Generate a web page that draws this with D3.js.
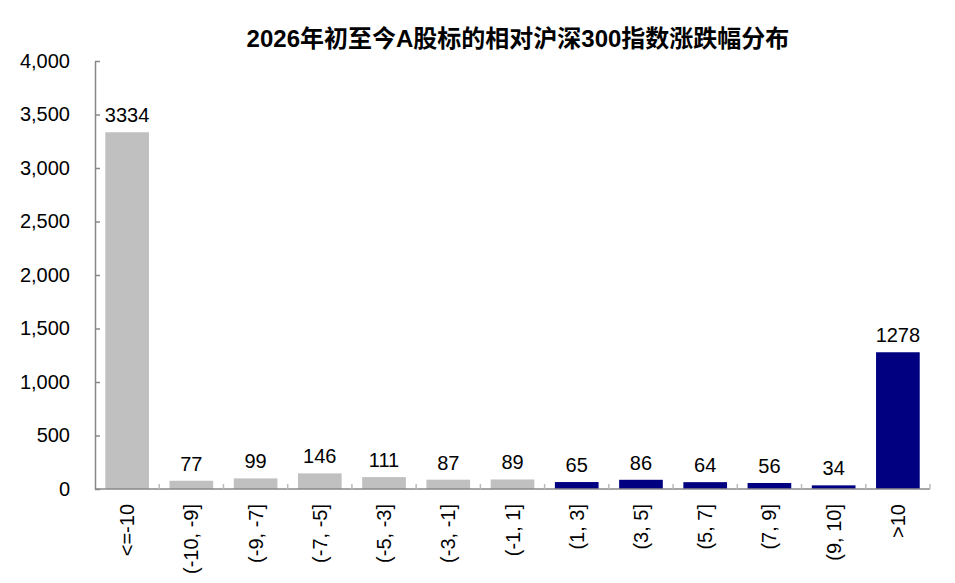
<!DOCTYPE html>
<html>
<head>
<meta charset="utf-8">
<script src="https://cdn.jsdelivr.net/npm/d3@7"></script>
<style>
  body { margin: 0; background: #fff; }
  text { font-family: "Liberation Sans", Arial, sans-serif; }
</style>
</head>
<body>
<div id="chart"></div>
<script>
const categories = ["<=-10", "(-10, -9]", "(-9, -7]", "(-7, -5]", "(-5, -3]", "(-3, -1]", "(-1, 1]",
                    "(1, 3]", "(3, 5]", "(5, 7]", "(7, 9]", "(9, 10]", ">10"];
const counts = [3334, 77, 99, 146, 111, 87, 89, 65, 86, 64, 56, 34, 1278];
const barColors = ["#c0c0c0", "#c0c0c0", "#c0c0c0", "#c0c0c0", "#c0c0c0", "#c0c0c0", "#c0c0c0",
                   "#000080", "#000080", "#000080", "#000080", "#000080", "#000080"];
const yTicks = [0, 500, 1000, 1500, 2000, 2500, 3000, 3500, 4000];
const title = "2026年初至今A股标的相对沪深300指数涨跌幅分布";

let W = 955, H = 583;
let margin = { top: 61, right: 25, bottom: 94, left: 95 };
let width = W - margin.left - margin.right, height = H - margin.top - margin.bottom;

let svg = d3.select("#chart").append("svg")
    .attr("width", W).attr("height", H);

svg.append("text")
    .attr("x", 518).attr("y", 47)
    .attr("text-anchor", "middle")
    .style("font-size", "24px").style("font-weight", "bold")
    .style("font-family", "'Liberation Sans', 'Noto Sans CJK SC', sans-serif")
    .text(title);

let g = svg.append("g").attr("transform", `translate(${margin.left},${margin.top})`);

let x = d3.scaleBand().domain(categories).range([0, width]).paddingInner(0.32).paddingOuter(0.16);
let y = d3.scaleLinear().domain([0, 4000]).range([height, 0]);

// y axis
let yAxis = g.append("g").call(d3.axisLeft(y).tickValues(yTicks).tickFormat(d3.format(",")).tickSize(0).tickPadding(25));
yAxis.select(".domain").attr("stroke", "#888").attr("stroke-width", 1.5);
yAxis.selectAll("text").style("font-size", "20px").attr("fill", "#000");
yAxis.selectAll(".tick").append("line").attr("x1", 0).attr("x2", 5).attr("stroke", "#888").attr("stroke-width", 1.5);

// bars
g.selectAll(".bar").data(counts).enter().append("rect")
    .attr("class", "bar")
    .attr("x", (d, i) => x(categories[i]))
    .attr("y", d => y(d))
    .attr("width", x.bandwidth())
    .attr("height", d => height - y(d))
    .attr("fill", (d, i) => barColors[i]);

// value labels
g.selectAll(".val").data(counts).enter().append("text")
    .attr("class", "val")
    .attr("x", (d, i) => x(categories[i]) + x.bandwidth() / 2)
    .attr("y", d => y(d) - 10)
    .attr("text-anchor", "middle")
    .style("font-size", "20px")
    .text(d => d);

// x axis
let step = x.step();
g.append("line").attr("x1", 0).attr("x2", width).attr("y1", height).attr("y2", height)
    .attr("stroke", "#888").attr("stroke-width", 1.5);
g.selectAll(".xtick").data(d3.range(1, categories.length + 1)).enter().append("line")
    .attr("x1", d => d * step).attr("x2", d => d * step)
    .attr("y1", height).attr("y2", height - 5)
    .attr("stroke", "#bbb").attr("stroke-width", 1.5);

g.selectAll(".xlab").data(categories).enter().append("text")
    .attr("transform", d => `translate(${x(d) + x.bandwidth() / 2 + 7},${height + 15}) rotate(-90)`)
    .attr("text-anchor", "end")
    .style("font-size", "20px")
    .text(d => d);
</script>
</body>
</html>
